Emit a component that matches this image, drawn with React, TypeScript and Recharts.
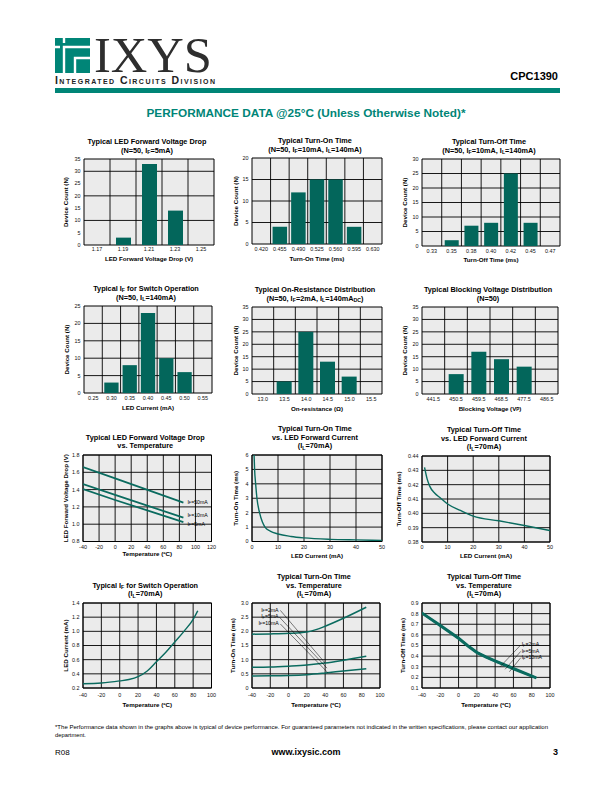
import React from 'react';
import {
  BarChart, Bar, LineChart, Line, XAxis, YAxis, CartesianGrid,
  ReferenceArea, ReferenceLine, ReferenceDot,
} from 'recharts';

// ---------- data ----------
const vfBins = ['1.17', '1.19', '1.21', '1.23', '1.25'];
const vfCounts = [0, 3, 33, 14, 0];
const tonBins = ['0.420', '0.455', '0.490', '0.525', '0.560', '0.595', '0.630'];
const tonCounts = [0, 4, 12, 15, 15, 4, 0];
const toffBins = ['0.33', '0.35', '0.38', '0.40', '0.42', '0.45', '0.47'];
const toffCounts = [0, 2, 7, 8, 25, 8, 0];
const ifBins = ['0.25', '0.30', '0.35', '0.40', '0.45', '0.50', '0.55'];
const ifCounts = [0, 3, 8, 23, 10, 6, 0];
const ronBins = ['13.0', '13.5', '14.0', '14.5', '15.0', '15.5'];
const ronCounts = [0, 5, 25, 13, 7, 0];
const bvBins = ['441.5', '450.5', '459.5', '468.5', '477.5', '486.5'];
const bvCounts = [0, 8, 17, 14, 11, 0];

const ticks0to35 = [0, 5, 10, 15, 20, 25, 30, 35];
const ticks0to30 = [0, 5, 10, 15, 20, 25, 30];
const ticks0to25 = [0, 5, 10, 15, 20, 25];
const ticks0to20 = [0, 5, 10, 15, 20];

const tempTicks140 = [-40, -20, 0, 20, 40, 60, 80, 100];
const tempTicks160 = [-40, -20, 0, 20, 40, 60, 80, 100, 120];
const currTicks = [0, 10, 20, 30, 40, 50];

const vfTempTicks = [0.8, 1.0, 1.2, 1.4, 1.6, 1.8];
const vf50mA = [[-40, 1.66], [0, 1.53], [85, 1.25]];
const vf10mA = [[-40, 1.465], [0, 1.34], [85, 1.075]];
const vf5mA = [[-40, 1.405], [0, 1.28], [85, 1.025]];

const tonIfTicks = [0, 1, 2, 3, 4, 5, 6];
const tonVsIf = [[0.8, 6.0], [1, 5.0], [1.4, 4.0], [1.9, 3.0], [2.9, 2.0], [4, 1.35], [5, 1.0], [7, 0.72], [10, 0.52], [15, 0.35], [20, 0.25], [30, 0.15], [40, 0.11], [50, 0.08]];

const toffIfTicks = [0.38, 0.39, 0.40, 0.41, 0.42, 0.43, 0.44];
const toffVsIf = [[1, 0.432], [2, 0.424], [3, 0.419], [5, 0.414], [7, 0.411], [10, 0.4065], [15, 0.402], [20, 0.398], [30, 0.3948], [40, 0.3915], [50, 0.388]];

const ifTempTicks = [0.2, 0.4, 0.6, 0.8, 1.0, 1.2, 1.4];
const ifVsTemp = [[-40, 0.26], [-20, 0.27], [0, 0.3], [10, 0.32], [20, 0.36], [30, 0.44], [40, 0.57], [50, 0.7], [60, 0.85], [70, 1.0], [80, 1.17], [85, 1.29]];

const tonTempTicks = [0, 0.5, 1.0, 1.5, 2.0, 2.5, 3.0];
const tonT2mA = [[-40, 1.9], [-20, 1.91], [0, 1.93], [20, 1.98], [30, 2.06], [40, 2.18], [60, 2.46], [85, 2.85]];
const tonT5mA = [[-40, 0.73], [-20, 0.74], [0, 0.77], [20, 0.81], [40, 0.88], [60, 0.98], [85, 1.12]];
const tonT10mA = [[-40, 0.42], [-20, 0.43], [0, 0.44], [20, 0.47], [40, 0.53], [60, 0.6], [85, 0.68]];

const toffTempTicks = [0.1, 0.2, 0.3, 0.4, 0.5, 0.6, 0.7, 0.8, 0.9];
const toffT2mA = [[-40, 0.81], [-20, 0.695], [0, 0.575], [10, 0.505], [20, 0.44], [30, 0.398], [40, 0.36], [50, 0.325], [60, 0.288], [85, 0.2]];
const toffT5mA = [[-40, 0.805], [-20, 0.688], [0, 0.568], [10, 0.498], [20, 0.434], [30, 0.392], [40, 0.354], [50, 0.319], [60, 0.282], [85, 0.195]];
const toffT10mA = [[-40, 0.8], [-20, 0.682], [0, 0.562], [10, 0.492], [20, 0.428], [30, 0.386], [40, 0.348], [50, 0.313], [60, 0.276], [85, 0.19]];

// minor (unlabelled) tick positions
const steps = (from, to, step) => {
  const out = [];
  for (let v = from; v <= to + 1e-9; v += step) out.push(Math.round(v * 1000) / 1000);
  return out;
};
const minorCount35 = steps(0, 35, 1);
const minorCount25 = steps(0, 25, 1);
const minorTemp160 = steps(-40, 120, 10);
const minorTemp140 = steps(-40, 100, 10);
const minorCurr = steps(0, 50, 2);
const minorTon3 = steps(0, 3, 0.1);
const minorToff9 = steps(0.1, 0.9, 0.02);

// ---------- style ----------
const FONT = "'Liberation Sans', Arial, sans-serif";
const TEAL = '#008577';
const BAR = '#03665b';
const LINE = '#0a6b5f';
const GRID_BG = '#ebebeb';
const YW = 34;
const MT = 6;
const MR = 8;
const XH = 24;
const TICK = { fontSize: 5.4, fill: '#111', fontFamily: FONT };
const MINOR_LINE = { stroke: '#000', strokeWidth: 0.6 };

function svgRich(text, fs) {
  const parts = text.split(/(\{[^}]*\})/).filter((s) => s.length);
  const shift = fs * 0.3;
  let prevSub = false;
  return parts.map((p, i) => {
    if (p.startsWith('{')) {
      const el = <tspan key={i} fontSize={fs * 0.72} dy={prevSub ? 0 : shift}>{p.slice(1, -1)}</tspan>;
      prevSub = true;
      return el;
    }
    const el = <tspan key={i} dy={prevSub ? -shift : 0}>{p}</tspan>;
    prevSub = false;
    return el;
  });
}

function htmlRich(text) {
  const parts = text.split(/(\{[^}]*\})/).filter((s) => s.length);
  return parts.map((p, i) =>
    p.startsWith('{')
      ? <span key={i} style={{ fontSize: '0.72em', position: 'relative', top: '0.3em' }}>{p.slice(1, -1)}</span>
      : <span key={i}>{p}</span>
  );
}

function YTitle(props) {
  const vb = props.viewBox || { x: 0, y: 0, width: 0, height: 0 };
  const cx = vb.x + vb.width - props.dist;
  const cy = vb.y + vb.height / 2;
  return (
    <text x={cx} y={cy} transform={`rotate(-90 ${cx} ${cy})`} textAnchor="middle" dominantBaseline="central"
      fontFamily={FONT} fontWeight="bold" fontSize={6.2} fill="#000">
      {svgRich(props.text, 6.2)}
    </text>
  );
}

function XTitle(props) {
  const vb = props.viewBox || { x: 0, y: 0, width: 0, height: 0 };
  const cx = vb.x + vb.width / 2;
  const cy = vb.y + props.dist;
  return (
    <text x={cx} y={cy} textAnchor="middle" dominantBaseline="central"
      fontFamily={FONT} fontWeight="bold" fontSize={6.2} fill="#000">
      {svgRich(props.text, 6.2)}
    </text>
  );
}

function NoteText(props) {
  const vb = props.viewBox || { x: 0, y: 0 };
  return (
    <text x={vb.x} y={vb.y} dominantBaseline="central" fontFamily={FONT} fontSize={5.2} fill="#000">
      {svgRich(props.text, 5.2)}
    </text>
  );
}

function Titles({ lines, cx, bottom }) {
  return (
    <>
      {lines.map((t, i) => {
        const cy = bottom - (lines.length - 1 - i) * 8.7;
        return (
          <div key={i} style={{
            position: 'absolute', left: cx - 100, width: 200, top: cy - 5, height: 10, lineHeight: '10px',
            textAlign: 'center', fontSize: 7.3, fontWeight: 'bold', whiteSpace: 'nowrap', color: '#000', fontFamily: FONT,
          }}>{htmlRich(t)}</div>
        );
      })}
    </>
  );
}

// ---------- chart configs ----------
const hists = [
  { title: ['Typical LED Forward Voltage Drop', '(N=50, I{F}=5mA)'], xTitle: 'LED Forward Voltage Drop (V)', yTitle: 'Device Count (N)',
    bins: vfBins, counts: vfCounts, yMax: 35, yTicks: ticks0to35, yGrid: [10, 20, 30], minorY: minorCount35,
    px: 84, py: 159, pw: 130, ph: 86, barSize: 15, yDist: 19, tm: 2.6, xDist: 13 },
  { title: ['Typical Turn-On Time', '(N=50, I{F}=10mA, I{L}=140mA)'], xTitle: 'Turn-On Time (ms)', yTitle: 'Device Count (N)',
    bins: tonBins, counts: tonCounts, yMax: 20, yTicks: ticks0to20, yGrid: [5, 10, 15], minorY: null,
    px: 252, py: 158, pw: 130, ph: 86, barSize: 14.5, yDist: 17, tm: 3.5, xDist: 13.5 },
  { title: ['Typical Turn-Off Time', '(N=50, I{F}=10mA, I{L}=140mA)'], xTitle: 'Turn-Off Time (ms)', yTitle: 'Device Count (N)',
    bins: toffBins, counts: toffCounts, yMax: 30, yTicks: ticks0to30, yGrid: [5, 10, 15, 20, 25], minorY: null,
    px: 422, py: 159, pw: 138, ph: 87, barSize: 14, yDist: 18.5, tm: 3.5, xDist: 13 },
  { title: ['Typical I{F} for Switch Operation', '(N=50, I{L}=140mA)'], xTitle: 'LED Current (mA)', yTitle: 'Device Count (N)',
    bins: ifBins, counts: ifCounts, yMax: 25, yTicks: ticks0to25, yGrid: [5, 10, 15, 20], minorY: minorCount25,
    px: 84, py: 306, pw: 128, ph: 87, barSize: 14.3, yDist: 18.5, tm: 3.5, xDist: 14 },
  { title: ['Typical On-Resistance Distribution', '(N=50, I{F}=2mA, I{L}=140mA{DC})'], xTitle: 'On-resistance (\u03a9)', yTitle: 'Device Count (N)',
    bins: ronBins, counts: ronCounts, yMax: 35, yTicks: ticks0to35, yGrid: [5, 10, 15, 20, 25, 30], minorY: minorCount35,
    px: 252, py: 307, pw: 130, ph: 87, barSize: 15, yDist: 17, tm: 3.5, xDist: 13.5 },
  { title: ['Typical Blocking Voltage Distribution', '(N=50)'], xTitle: 'Blocking Voltage (V{P})', yTitle: 'Device Count (N)',
    bins: bvBins, counts: bvCounts, yMax: 35, yTicks: ticks0to35, yGrid: [5, 10, 15, 20, 25, 30], minorY: minorCount35,
    px: 422, py: 307, pw: 136, ph: 87, barSize: 15, yDist: 18.5, tm: 3.5, xDist: 13.5 },
];

const lines = [
  { title: ['Typical LED Forward Voltage Drop', 'vs. Temperature'], xTitle: 'Temperature (\u00baC)', yTitle: 'LED Forward Voltage Drop (V)',
    xDomain: [-40, 120], xTicks: tempTicks160, yDomain: [0.8, 1.8], yTicks: vfTempTicks, yDec: 1,
    minorX: minorTemp160, minorY: null,
    series: [{ d: vf50mA, w: 1.8, t: 'linear' }, { d: vf10mA, w: 1.8, t: 'linear' }, { d: vf5mA, w: 1.8, t: 'linear' }],
    notes: [{ x: 90, y: 1.26, text: 'I{F}=50mA' }, { x: 90, y: 1.11, text: 'I{F}=10mA' }, { x: 90, y: 1.005, text: 'I{F}=5mA' }],
    leaders: [], px: 83, py: 455, pw: 128.5, ph: 86.5, yDist: 18, tm: 3.6, xDist: 11.5 },
  { title: ['Typical Turn-On Time', 'vs. LED Forward Current', '(I{L}=70mA)'], xTitle: 'LED Current (mA)', yTitle: 'Turn-On Time (ms)',
    xDomain: [0, 50], xTicks: currTicks, yDomain: [0, 6], yTicks: tonIfTicks, yDec: 0,
    minorX: minorCurr, minorY: null,
    series: [{ d: tonVsIf, w: 1.4, t: 'monotone' }], notes: [], leaders: [],
    px: 252, py: 455, pw: 130, ph: 86.5, yDist: 17, tm: 3.6, xDist: 13 },
  { title: ['Typical Turn-Off Time', 'vs. LED Forward Current', '(I{L}=70mA)'], xTitle: 'LED Current (mA)', yTitle: 'Turn-Off Time (ms)',
    xDomain: [0, 50], xTicks: currTicks, yDomain: [0.38, 0.44], yTicks: toffIfTicks, yDec: 2,
    minorX: null, minorY: null,
    series: [{ d: toffVsIf, w: 1.4, t: 'monotone' }], notes: [], leaders: [],
    px: 422, py: 456, pw: 128, ph: 86, yDist: 24, tm: 3.6, xDist: 13 },
  { title: ['Typical I{F} for Switch Operation', '(I{L}=70mA)'], xTitle: 'Temperature (\u00baC)', yTitle: 'LED Current (mA)',
    xDomain: [-40, 100], xTicks: tempTicks140, yDomain: [0.2, 1.4], yTicks: ifTempTicks, yDec: 1,
    minorX: minorTemp140, minorY: null,
    series: [{ d: ifVsTemp, w: 1.4, t: 'monotone' }], notes: [], leaders: [],
    px: 83, py: 603, pw: 128.5, ph: 85, yDist: 18, tm: 5.5, xDist: 15.5 },
  { title: ['Typical Turn-On Time', 'vs. Temperature', '(I{L}=70mA)'], xTitle: 'Temperature (\u00baC)', yTitle: 'Turn-On Time (ms)',
    xDomain: [-40, 100], xTicks: tempTicks140, yDomain: [0, 3], yTicks: tonTempTicks, yDec: 1,
    minorX: null, minorY: minorTon3,
    series: [{ d: tonT2mA, w: 1.5, t: 'monotone' }, { d: tonT5mA, w: 1.5, t: 'monotone' }, { d: tonT10mA, w: 1.5, t: 'monotone' }],
    notes: [{ x: -30, y: 2.77, text: 'I{F}=2mA' }, { x: -30, y: 2.53, text: 'I{F}=5mA' }, { x: -33, y: 2.3, text: 'I{F}=10mA' }],
    leaders: [[-9, 2.74, 40, 0.88], [-10, 2.5, 42, 0.7], [-9, 2.26, 43, 0.54]],
    px: 252, py: 603, pw: 128, ph: 85, yDist: 20, tm: 5.5, xDist: 15.5 },
  { title: ['Typical Turn-Off Time', 'vs. Temperature', '(I{L}=70mA)'], xTitle: 'Temperature (\u00baC)', yTitle: 'Turn-Off Time (ms)',
    xDomain: [-40, 100], xTicks: tempTicks140, yDomain: [0.1, 0.9], yTicks: toffTempTicks, yDec: 1,
    minorX: minorTemp140, minorY: minorToff9,
    series: [{ d: toffT2mA, w: 2, t: 'linear' }, { d: toffT5mA, w: 2, t: 'linear' }, { d: toffT10mA, w: 2, t: 'linear' }],
    notes: [{ x: 69, y: 0.514, text: 'I{F}=2mA' }, { x: 69, y: 0.451, text: 'I{F}=5mA' }, { x: 69, y: 0.389, text: 'I{F}=10mA' }],
    leaders: [[45.4, 0.3, 68, 0.505], [50.9, 0.276, 68, 0.445], [55.6, 0.253, 68, 0.385]],
    px: 422, py: 603, pw: 128, ph: 85, yDist: 20, tm: 5.5, xDist: 15.5 },
];

// ---------- panels ----------
function HistPanel({ c }) {
  const data = c.bins.map((b, i) => ({ bin: b, n: c.counts[i] }));
  const W = YW + c.pw + MR;
  const H = MT + c.ph + XH;
  const n = c.bins.length;
  return (
    <>
      <Titles lines={c.title} cx={c.px + c.pw / 2 - 2} bottom={c.py - 8.5} />
      <div style={{ position: 'absolute', left: c.px - YW, top: c.py - MT }}>
        <BarChart width={W} height={H} data={data} margin={{ top: MT, right: MR, bottom: 0, left: 0 }}>
          <CartesianGrid fill={GRID_BG} stroke="#000" strokeWidth={0.9} horizontalValues={c.yGrid}
            verticalCoordinatesGenerator={(p) => {
              const o = p.offset;
              return Array.from({ length: n - 1 }, (_, i) => o.left + ((i + 1) * o.width) / n);
            }} />
          <XAxis dataKey="bin" type="category" interval={0} height={XH} tickSize={0} tickMargin={c.tm}
            axisLine={false} tick={TICK} label={<XTitle text={c.xTitle} dist={c.xDist} />} />
          <YAxis type="number" width={YW} domain={[0, c.yMax]} ticks={c.yTicks} interval={0} tickSize={0} tickMargin={3.5}
            axisLine={false} tick={TICK} label={<YTitle text={c.yTitle} dist={c.yDist} />} />
          {c.minorY && (
            <YAxis yAxisId="minorY" type="number" domain={[0, c.yMax]} ticks={c.minorY} interval={0} mirror width={0}
              tick={false} tickSize={2} tickLine={MINOR_LINE} axisLine={false} />
          )}
          <Bar dataKey="n" fill={BAR} barSize={c.barSize} isAnimationActive={false} />
          <ReferenceArea y1={0} y2={c.yMax} fill="none" stroke="#000" strokeWidth={1} ifOverflow="visible" />
        </BarChart>
      </div>
    </>
  );
}

function fmt(v, dec) {
  return v === 0 ? '0' : v.toFixed(dec);
}

function LinePanel({ c }) {
  const W = YW + c.pw + MR;
  const H = MT + c.ph + XH;
  return (
    <>
      <Titles lines={c.title} cx={c.px + c.pw / 2 - 2} bottom={c.py - 8.7} />
      <div style={{ position: 'absolute', left: c.px - YW, top: c.py - MT }}>
        <LineChart width={W} height={H} margin={{ top: MT, right: MR, bottom: 0, left: 0 }}>
          <CartesianGrid fill={GRID_BG} stroke="#000" strokeWidth={0.9} />
          <XAxis type="number" dataKey="x" domain={c.xDomain} ticks={c.xTicks} interval={0} allowDataOverflow
            height={XH} tickSize={0} tickMargin={c.tm} axisLine={false} tick={TICK}
            label={<XTitle text={c.xTitle} dist={c.xDist} />} />
          <YAxis type="number" domain={c.yDomain} ticks={c.yTicks} interval={0} allowDataOverflow width={YW}
            tickSize={0} tickMargin={3.5} axisLine={false} tick={TICK} tickFormatter={(v) => fmt(v, c.yDec)}
            label={<YTitle text={c.yTitle} dist={c.yDist} />} />
          {c.minorX && (
            <XAxis xAxisId="minorX" type="number" dataKey="x" domain={c.xDomain} ticks={c.minorX} interval={0}
              allowDataOverflow mirror height={0} tick={false} tickSize={2} tickLine={MINOR_LINE} axisLine={false} />
          )}
          {c.minorY && (
            <YAxis yAxisId="minorY" type="number" domain={c.yDomain} ticks={c.minorY} interval={0}
              allowDataOverflow mirror width={0} tick={false} tickSize={2} tickLine={MINOR_LINE} axisLine={false} />
          )}
          {c.series.map((s, i) => (
            <Line key={i} data={s.d.map(([x, y]) => ({ x, y }))} dataKey="y" type={s.t} stroke={LINE}
              strokeWidth={s.w} dot={false} activeDot={false} isAnimationActive={false} />
          ))}
          {c.leaders.map((l, i) => (
            <ReferenceLine key={'l' + i} segment={[{ x: l[0], y: l[1] }, { x: l[2], y: l[3] }]}
              stroke="#000" strokeWidth={0.5} ifOverflow="visible" />
          ))}
          {c.notes.map((nt, i) => (
            <ReferenceDot key={'n' + i} x={nt.x} y={nt.y} r={0} fill="none" stroke="none" ifOverflow="visible"
              label={<NoteText text={nt.text} />} />
          ))}
          <ReferenceArea x1={c.xDomain[0]} x2={c.xDomain[1]} y1={c.yDomain[0]} y2={c.yDomain[1]}
            fill="none" stroke="#000" strokeWidth={1} ifOverflow="visible" />
        </LineChart>
      </div>
    </>
  );
}

function Header() {
  return (
    <svg style={{ position: 'absolute', left: 0, top: 0 }} width={612} height={125}>
      <rect x={55} y={38} width={35} height={35} fill={TEAL} />
      <path d="M64 73 V47 H90" stroke="#fff" strokeWidth={2.4} fill="none" />
      <path d="M75 73 V58 H90" stroke="#fff" strokeWidth={2.4} fill="none" />
      <path d="M55 47 H60 M64 38 V43" stroke="#fff" strokeWidth={2.4} fill="none" />
      <text x={94} y={72} fontFamily="'Liberation Serif', serif" fontSize={50} fill="#2e2e2e" textLength={118} lengthAdjust="spacingAndGlyphs">IXYS</text>
      <text x={55} y={84} fontFamily={FONT} fontWeight="bold" fontSize={10.5} fill="#222"
        style={{ fontVariant: 'small-caps' }} textLength={160} lengthAdjust="spacing">Integrated Circuits Division</text>
      <text x={558} y={80} textAnchor="end" fontFamily={FONT} fontWeight="bold" fontSize={11} fill="#000">CPC1390</text>
      <rect x={55} y={88} width={505} height={5} fill={TEAL} />
      <text x={306} y={117} textAnchor="middle" fontFamily={FONT} fontWeight="bold" fontSize={11.7} fill={TEAL}
        textLength={319} lengthAdjust="spacingAndGlyphs">PERFORMANCE DATA @25°C (Unless Otherwise Noted)*</text>
    </svg>
  );
}

function Footer() {
  return (
    <svg style={{ position: 'absolute', left: 0, top: 715 }} width={612} height={60}>
      <text x={55} y={14} fontFamily={FONT} fontSize={5.8} fill="#000" textLength={493} lengthAdjust="spacingAndGlyphs">
        *The Performance data shown in the graphs above is typical of device performance.  For guaranteed parameters not indicated in the written specifications, please contact our application
      </text>
      <text x={55} y={22} fontFamily={FONT} fontSize={5.8} fill="#000">department.</text>
      <text x={55} y={40} fontFamily={FONT} fontSize={8} fill="#000">R08</text>
      <text x={306} y={40} textAnchor="middle" fontFamily={FONT} fontWeight="bold" fontSize={9} fill="#000">www.ixysic.com</text>
      <text x={558} y={40} textAnchor="end" fontFamily={FONT} fontWeight="bold" fontSize={9} fill="#000">3</text>
    </svg>
  );
}

export default function App() {
  return (
    <div style={{ position: 'absolute', left: 0, top: 0, width: 612, height: 792, background: '#fff', fontFamily: FONT, overflow: 'hidden' }}>
      <Header />
      {hists.map((c, i) => <HistPanel key={'h' + i} c={c} />)}
      {lines.map((c, i) => <LinePanel key={'l' + i} c={c} />)}
      <Footer />
    </div>
  );
}
